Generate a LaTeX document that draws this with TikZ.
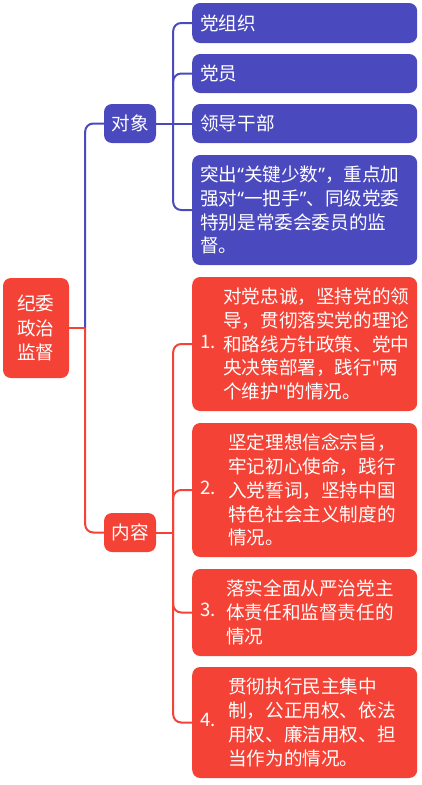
\documentclass[tikz,border=0pt]{standalone}
\usepackage{fontspec}
\setmainfont{Noto Sans CJK SC}
\newfontfamily\latinq{Noto Sans}
\newcommand{\myLq}{{\latinq “}}
\newcommand{\myRq}{{\latinq ”}}
\newcommand{\mySq}{{\latinq "}}
\definecolor{bluec}{HTML}{4B49BE}
\definecolor{redc}{HTML}{F44336}
\newcommand{\numtext}[3]{\makebox[#2][l]{#1}\parbox[c]{\dimexpr209pt-#2\relax}{\raggedright #3}}
\begin{document}
\begin{tikzpicture}[x=1pt,y=-1pt,
  every node/.style={text=white,font=\fontsize{18.6}{23.8}\selectfont},
  box/.style={rounded corners=8pt,inner ysep=0pt},
  bluebox/.style={box,fill=bluec},
  redbox/.style={box,fill=redc},
  leaf/.style={anchor=west,minimum width=225pt,inner xsep=8pt},
  bleaf/.style={bluebox,leaf,text width=209pt,align=left},
  rleaf/.style={redbox,leaf},
  blueline/.style={draw=bluec,line width=2pt},
  redline/.style={draw=redc,line width=2pt}]
\useasboundingbox (0,0) rectangle (422,785);
% root and second level
\node[redbox,minimum width=66pt,minimum height=100pt,align=center,
  font=\fontsize{18.6}{24.5}\selectfont] (root) at (36,328) {纪委\\政治\\监督};
\node[bluebox,minimum width=52pt,minimum height=39pt] (obj) at (130,123.5) {对象};
\node[redbox,minimum width=52pt,minimum height=39pt] (cnt) at (130,532.5) {内容};
% blue leaves
\node[bleaf,minimum height=40pt] (o1) at (192,23) {党组织};
\node[bleaf,minimum height=39pt] (o2) at (192,73.5) {党员};
\node[bleaf,minimum height=39pt] (o3) at (192,123.5) {领导干部};
\node[bleaf,minimum height=110pt] (o4) at (192,210) {突出\myLq 关键少数\myRq ，重点加\\强对\myLq 一把手\myRq 、同级党委\\特别是常委会委员的监\\督。};
% red leaves
\node[rleaf,minimum height=134pt] (c1) at (192,344) {\numtext{1.}{23pt}{对党忠诚，坚持党的领\\导，贯彻落实党的理论\\和路线方针政策、党中\\央决策部署，践行\mySq 两\\个维护\mySq 的情况。}};
\node[rleaf,minimum height=134pt] (c2) at (192,490) {\numtext{2.}{28pt}{坚定理想信念宗旨，\\牢记初心使命，践行\\入党誓词，坚持中国\\特色社会主义制度的\\情况。}};
\node[rleaf,minimum height=87pt] (c3) at (192,612.5) {\numtext{3.}{26pt}{落实全面从严治党主\\体责任和监督责任的\\情况}};
\node[rleaf,minimum height=111pt] (c4) at (192,722.5) {\numtext{4.}{28pt}{贯彻执行民主集中\\制，公正用权、依法\\用权、廉洁用权、担\\当作为的情况。}};
% connectors
\path (root.east) ++(16,0) coordinate (j);
\path (obj.east) ++(17,0) coordinate (oj);
\path (cnt.east) ++(17,0) coordinate (cj);
\draw[blueline,rounded corners=8pt] (j) |- (obj.west);
\draw[redline] (root.east) -- (j);
\draw[redline,rounded corners=8pt] (j) |- (cnt.west);
\draw[blueline] (obj.east) -- (oj);
\foreach \n in {o1,o2,o4} \draw[blueline,rounded corners=8pt] (oj) |- (\n.west);
\draw[blueline] (oj) -- (o3.west);
\draw[redline] (cnt.east) -- (cj);
\foreach \n in {c1,c2,c3,c4} \draw[redline,rounded corners=8pt] (cj) |- (\n.west);
\end{tikzpicture}
\end{document}
